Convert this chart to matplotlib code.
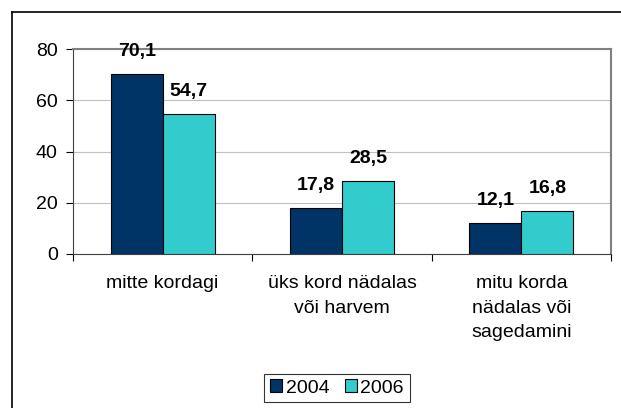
import matplotlib
matplotlib.use("Agg")
import matplotlib.pyplot as plt
import numpy as np
from matplotlib.lines import Line2D

categories = ["mitte kordagi", "üks kord nädalas\nvõi harvem", "mitu korda\nnädalas või\nsagedamini"]
series_names = ["2004", "2006"]
values_2004 = [70.1, 17.8, 12.1]
values_2006 = [54.7, 28.5, 16.8]
colors = ["#003366", "#33CCCC"]

plt.rcParams['font.family'] = ['Liberation Sans', 'DejaVu Sans']
FS = 14

fig = plt.figure(figsize=(6.21, 4.08), dpi=100)
ax = fig.add_axes([73/621, 1-254/408, (611-73)/621, (254-49)/408])

x = np.arange(len(categories))
w = 0.29
b1 = ax.bar(x - w/2, values_2004, w, color=colors[0], edgecolor='black', linewidth=0.8, label=series_names[0], zorder=3)
b2 = ax.bar(x + w/2, values_2006, w, color=colors[1], edgecolor='black', linewidth=0.8, label=series_names[1], zorder=3)

for bars, vals in ((b1, values_2004), (b2, values_2006)):
    for r, v in zip(bars, vals):
        ax.annotate(f"{v:.1f}".replace('.', ','), (r.get_x() + r.get_width()/2, v),
                    xytext=(0, 10), textcoords='offset points',
                    ha='center', va='bottom', fontsize=FS, fontweight='bold', zorder=4)

ax.set_xlim(-0.5, 2.5)
ax.set_ylim(0, 80)
ax.set_yticks([0, 20, 40, 60, 80])
ax.yaxis.grid(True, color='#C0C0C0', linewidth=0.8, zorder=0)
ax.tick_params(axis='y', direction='out', length=5, labelsize=FS, pad=6)
ax.set_xticks([-0.5, 0.5, 1.5, 2.5])
ax.set_xticklabels([])
ax.set_xticks(x, minor=True)
ax.set_xticklabels(categories, minor=True, fontsize=FS)
ax.tick_params(axis='x', which='major', direction='out', length=5)
ax.tick_params(axis='x', which='minor', length=0, pad=15)
for lbl in ax.get_xticklabels(minor=True):
    lbl.set_verticalalignment('top')
    lbl.set_multialignment('center')
    lbl.set_linespacing(1.6)

for s in ('top', 'right'):
    ax.spines[s].set_color('#808080')
    ax.spines[s].set_linewidth(1.5)
ax.spines['left'].set_color('#404040')
ax.spines['bottom'].set_color('#404040')

leg = fig.legend(handles=[b1, b2], labels=series_names, loc='center', bbox_to_anchor=(337/621, 1-388/408),
                 ncol=2, frameon=True, fancybox=False, edgecolor='black', fontsize=FS,
                 handlelength=0.6, handleheight=0.6, handletextpad=0.2, columnspacing=0.8,
                 borderpad=0.3)
leg.get_frame().set_linewidth(0.8)

# outer chart frame
fig.add_artist(Line2D([12/621, 12/621], [0, 1-12/408], transform=fig.transFigure, color='black', linewidth=1.2))
fig.add_artist(Line2D([12/621, 1], [1-12/408, 1-12/408], transform=fig.transFigure, color='black', linewidth=1.2))

fig.savefig("out.png", dpi=100)
